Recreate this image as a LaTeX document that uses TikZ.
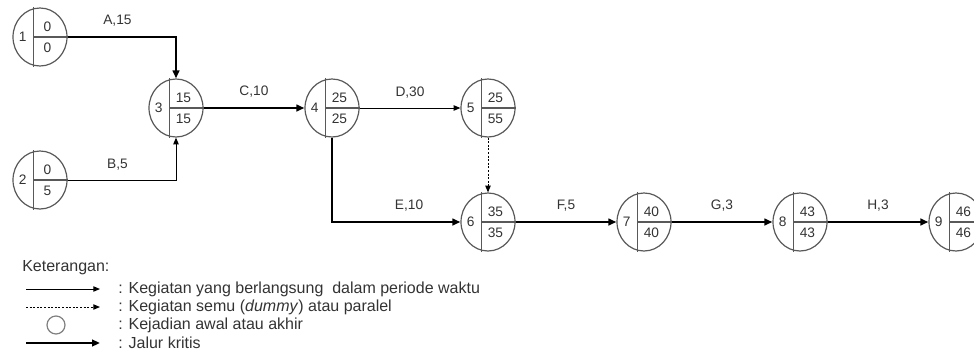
\documentclass[tikz,border=0pt]{standalone}
\usepackage{fontspec}
\setmainfont{Liberation Sans}
\usetikzlibrary{shapes.geometric,arrows.meta}

\newcommand{\legendfont}{\fontsize{12}{14}\selectfont}

\begin{document}
\begin{tikzpicture}[
				x = 0.75pt, y = -0.75pt, % one unit = one pixel of the picture
				> = {Triangle[length=5pt, width=4pt]}, % arrow head style
				auto,
				node distance = 117pt, % distance between events
				font = \fontsize{10.3}{12}\selectfont,
				text = black!80
				]

				\tikzstyle{event} = [ellipse, draw = black!65, line width = 0.9pt, inner sep = 0pt,
					minimum width = 40.5pt, minimum height = 43.5pt]
				\tikzstyle{divider} = [draw = black!65, line width = 0.9pt]
				\tikzstyle{activity} = [->, line width = 0.75pt]
				\tikzstyle{critical} = [-{Triangle[length=6pt, width=5pt]}, line width = 2pt]
				\tikzstyle{dummy} = [->, line width = 0.75pt, dash pattern = on 1.5pt off 1.2pt]
				\tikzstyle{lbl} = [inner sep = 7pt]
				\tikzstyle{hv} = [to path = {-| (\tikztotarget) \tikztonodes}]
				\tikzstyle{vh} = [to path = {|- (\tikztotarget) \tikztonodes}]
				\tikzstyle{legend} = [anchor = west, inner sep = 0pt, font = \legendfont]

				\useasboundingbox (0,0) rectangle (974,354);

				% events
				\node[event] (n1) at (40,37) {};
				\node[event] (n2) at (40,180) {};
				\node[event] (n3) at (176,108) {};
				\node[event] (n4) [right of=n3] {};
				\node[event] (n5) [right of=n4] {};
				\node[event] (n6) [below of=n5, node distance=85.5pt] {};
				\node[event] (n7) [right of=n6] {};
				\node[event] (n8) [right of=n7] {};
				\node[event] (n9) [right of=n8] {};

				% dividers, numbers and times
				\foreach \n/\e/\l in {1/0/0, 2/0/5, 3/15/15, 4/25/25, 5/25/55, 6/35/35, 7/40/40, 8/43/43, 9/46/46} {
					\draw[divider] ([xshift=-4.8pt]n\n.north) -- ([xshift=-4.8pt]n\n.south);
					\draw[divider] ([xshift=-4.8pt]n\n.center) -- (n\n.east);
					\node (id\n) at ([xshift=-13pt]n\n.center) {\n};
					\node (early\n) at ([xshift=5.6pt, yshift=7.8pt]n\n.center) {\e};
					\node (late\n) at ([xshift=5.6pt, yshift=-8.4pt]n\n.center) {\l};
				}

				% activities
				\path
				(n1.east)	edge [critical, hv] node [lbl, pos=0.23] {A,15} (n3.north)
				(n2.east)	edge [activity, hv] node [lbl, pos=0.23] {B,5} (n3.south)
				(n3)		edge [critical] node [lbl] {C,10} (n4)
				(n4)		edge [activity] node [lbl] {D,30} (n5)
				(n4.south)	edge [critical, vh] node [lbl, pos=0.8] {E,10} (n6)
				(n5)		edge [dummy] (n6)
				(n6)		edge [critical] node [lbl] {F,5} (n7)
				(n7)		edge [critical] node [lbl] {G,3} (n8)
				(n8)		edge [critical] node [lbl] {H,3} (n9)
				;

				% legend
				\node[legend] (ket) at (22,268) {Keterangan:};
				\coordinate (act-s) at (26,289);
				\coordinate (act-t) at (100,289);
				\coordinate (dum-s) at (26,307);
				\coordinate (dum-t) at (100,307);
				\coordinate (crit-s) at (26,343);
				\coordinate (crit-t) at (100,343);
				\node[circle, draw = black!50, line width = 0.9pt, minimum size = 13.5pt, inner sep = 0pt] (kej) at (56,325) {};
				\draw[activity] (act-s) -- (act-t);
				\draw[dummy] (dum-s) -- (dum-t);
				\draw[critical] (crit-s) -- (crit-t);
				\node[legend] (ket-act) at (118,289) {: Kegiatan yang berlangsung\ \ dalam periode waktu};
				\node[legend] (ket-dum) at (118,307) {: Kegiatan semu (\textit{dummy}) atau paralel};
				\node[legend] (ket-kej) at (118,325) {: Kejadian awal atau akhir};
				\node[legend] (ket-crit) at (118,343) {: Jalur kritis};
			\end{tikzpicture}
\end{document}
